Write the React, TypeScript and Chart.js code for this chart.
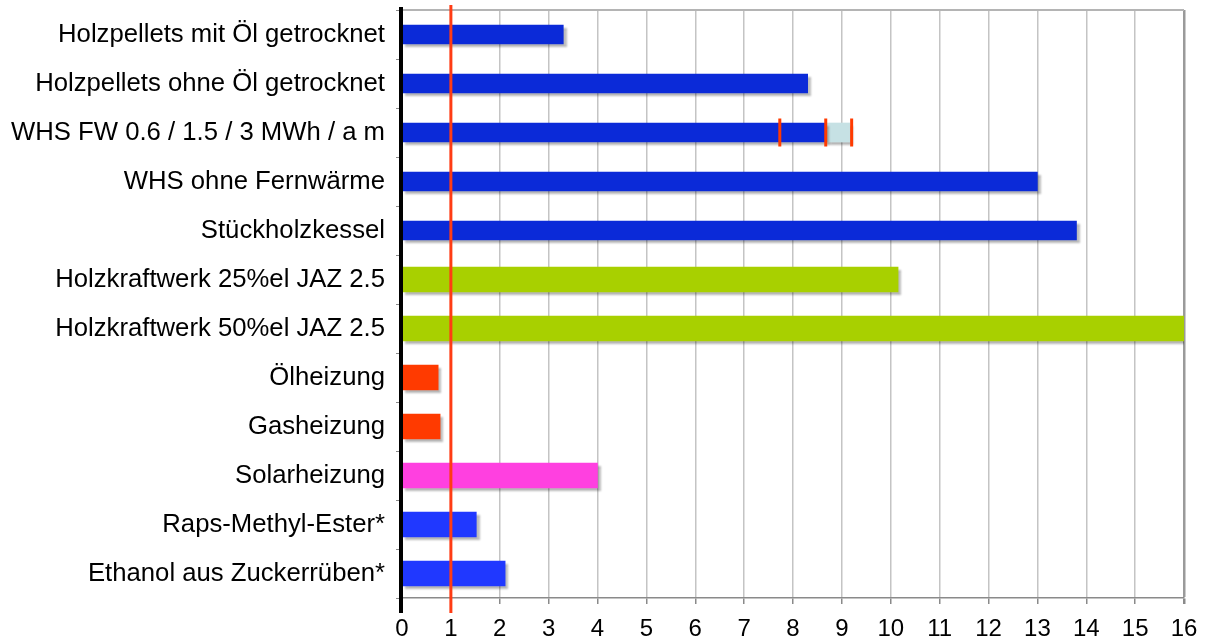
import React, { useEffect, useRef } from "react";
import { Chart, registerables } from "chart.js";

Chart.register(...registerables);

const categories = [
  "Holzpellets mit Öl getrocknet",
  "Holzpellets ohne Öl getrocknet",
  "WHS FW 0.6 / 1.5 / 3 MWh / a m",
  "WHS ohne Fernwärme",
  "Stückholzkessel",
  "Holzkraftwerk 25%el JAZ 2.5",
  "Holzkraftwerk 50%el JAZ 2.5",
  "Ölheizung",
  "Gasheizung",
  "Solarheizung",
  "Raps-Methyl-Ester*",
  "Ethanol aus Zuckerrüben*",
];

const thinValues = [3.3, 8.3, 8.67, 13.0, 13.8, null, null, null, null, null, null, null];
const thickValues = [null, null, null, null, null, 10.15, 16, 0.74, 0.78, 4.0, 1.52, 2.11];
const thickColors = [
  "#0b2ad8", "#0b2ad8", "#0b2ad8", "#0b2ad8", "#0b2ad8",
  "#a8d000", "#a8d000", "#ff3a00", "#ff3a00", "#ff40e0", "#2038ff", "#2038ff",
];
const whsRangeStart = 8.67;
const whsRangeEnd = 9.16;
const whsMarkers = [7.73, 8.67, 9.2];
const referenceValue = 1;
const xTicks = [0, 16];

const FONT = "'Liberation Sans', Arial, Helvetica, sans-serif";

export default function App() {
  const ref = useRef<HTMLCanvasElement | null>(null);

  useEffect(() => {
    document.body.style.margin = "0";
    const canvas = ref.current;
    if (!canvas) return;

    const whsLabel = categories[2];
    const rangeData = categories.map((c, i) => (i === 2 ? [whsRangeStart, whsRangeEnd] : null));
    const markerData = whsMarkers.map((v) => ({ x: v, y: whsLabel }));

    const decorPlugin = {
      id: "decor",
      beforeDatasetsDraw(chart: any) {
        const { ctx, chartArea } = chart;
        ctx.save();
        ctx.strokeStyle = "#b4b4b4";
        ctx.lineWidth = 2;
        ctx.beginPath();
        ctx.moveTo(chartArea.left, chartArea.top);
        ctx.lineTo(chartArea.right, chartArea.top);
        ctx.stroke();
        ctx.restore();
      },
      beforeDatasetDraw(chart: any, args: any) {
        const ctx = chart.ctx;
        ctx.save();
        if (args.meta.type === "bar") {
          ctx.shadowColor = "rgba(0,0,0,0.28)";
          ctx.shadowOffsetX = 3;
          ctx.shadowOffsetY = 3;
          ctx.shadowBlur = 2;
        }
      },
      afterDatasetDraw(chart: any) {
        chart.ctx.restore();
      },
      afterDatasetsDraw(chart: any) {
        const { ctx, chartArea, scales } = chart;
        const xs = scales.x;
        ctx.save();
        const x0 = xs.getPixelForValue(0);
        ctx.strokeStyle = "#000";
        ctx.lineWidth = 4;
        ctx.beginPath();
        ctx.moveTo(x0 - 1, chartArea.top - 3);
        ctx.lineTo(x0 - 1, chartArea.bottom + 15);
        ctx.stroke();
        const xr = xs.getPixelForValue(referenceValue);
        ctx.strokeStyle = "#ff3c14";
        ctx.lineWidth = 3;
        ctx.beginPath();
        ctx.moveTo(xr, chartArea.top - 5);
        ctx.lineTo(xr, chartArea.bottom + 15);
        ctx.stroke();
        ctx.restore();
      },
    };

    const chart = new Chart(canvas, {
      type: "bar",
      data: {
        labels: categories,
        datasets: [
          {
            type: "scatter",
            data: markerData as any,
            pointStyle: "line",
            rotation: 90,
            radius: 14,
            hoverRadius: 14,
            borderColor: "#ff3a00",
            backgroundColor: "#ff3a00",
            borderWidth: 3,
            order: 0,
            clip: false,
            xAxisID: "x",
            yAxisID: "y",
          } as any,
          {
            data: thinValues as any,
            backgroundColor: "#0b2ad8",
            barThickness: 19,
            grouped: false,
            skipNull: true,
            indexAxis: "y",
            order: 2,
          } as any,
          {
            data: rangeData as any,
            backgroundColor: "#c6e1e4",
            barThickness: 19,
            grouped: false,
            skipNull: true,
            indexAxis: "y",
            order: 3,
          } as any,
          {
            data: thickValues as any,
            backgroundColor: thickColors,
            barThickness: 25,
            grouped: false,
            skipNull: true,
            indexAxis: "y",
            order: 1,
          } as any,
        ],
      },
      options: {
        indexAxis: "y",
        responsive: false,
        animation: false,
        events: [],
        layout: { autoPadding: false, padding: { top: 10, right: 25, left: 0, bottom: 0 } },
        plugins: {
          legend: { display: false },
          tooltip: { enabled: false },
        },
        scales: {
          x: {
            type: "linear",
            position: "bottom",
            min: xTicks[0],
            max: xTicks[1],
            ticks: {
              stepSize: 1,
              color: "#000",
              font: { family: FONT, size: 24 },
              padding: 11,
              maxRotation: 0,
              autoSkip: false,
            },
            grid: {
              color: (c: any) => (c.tick && c.tick.value === xTicks[1] ? "#9a9a9a" : "#c4c4c4"),
              lineWidth: (c: any) => (c.tick && c.tick.value === xTicks[1] ? 2.5 : 1.5),
              tickLength: 6,
              tickColor: "#8a8a8a",
            },
            border: { display: true, color: "#8a8a8a", width: 1.5 },
            afterFit(scale: any) {
              scale.height = 43;
              scale.paddingLeft = 0;
              scale.paddingRight = 0;
            },
          },
          y: {
            type: "category",
            position: "left",
            offset: true,
            ticks: {
              color: "#000",
              font: { family: FONT, size: 25.7 },
              padding: 11,
              autoSkip: false,
            },
            grid: {
              offset: true,
              drawOnChartArea: false,
              tickLength: 6,
              color: "#8a8a8a",
              lineWidth: 1,
            },
            border: { display: false },
            afterFit(scale: any) {
              scale.width = 402;
              scale.paddingTop = 0;
              scale.paddingBottom = 0;
            },
          },
        },
      } as any,
      plugins: [decorPlugin],
    });

    return () => chart.destroy();
  }, []);

  return (
    <div style={{ width: 1209, height: 641, overflow: "hidden", background: "#fff" }}>
      <canvas ref={ref} width={1209} height={641} style={{ display: "block" }} />
    </div>
  );
}
